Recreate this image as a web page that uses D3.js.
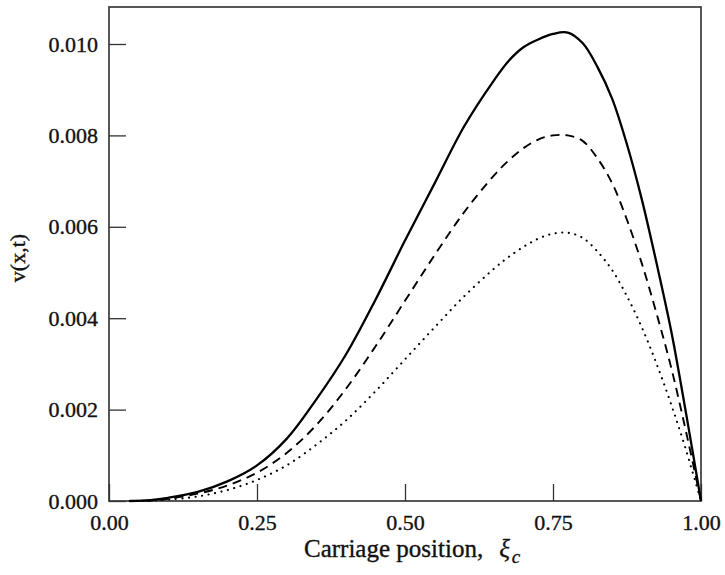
<!DOCTYPE html>
<html>
<head>
<meta charset="utf-8">
<script src="https://cdn.jsdelivr.net/npm/d3@7"></script>
<style>
  html, body { margin: 0; padding: 0; background: #fff; }
  svg { display: block; }
  text { font-family: "Liberation Serif", serif; fill: #111; stroke: #111; stroke-width: 0.35px; }
</style>
</head>
<body>
<svg id="chart" width="725" height="575"></svg>
<script>
// Carriage position samples
const xi = [0.035, 0.07, 0.10, 0.15, 0.20, 0.25, 0.30, 0.35, 0.40, 0.45, 0.50, 0.55, 0.60, 0.65, 0.675, 0.70, 0.725, 0.75, 0.775, 0.80, 0.825, 0.85, 0.875, 0.90, 0.925, 0.95, 0.975, 1.00];
// Deflection for each case
const solidV  = [0, 0.00002, 0.00007, 0.00020, 0.00043, 0.00078, 0.00136, 0.00222, 0.00320, 0.00440, 0.00570, 0.00695, 0.00820, 0.00920, 0.00963, 0.00993, 0.01010, 0.01022, 0.01025, 0.01002, 0.00950, 0.00880, 0.00780, 0.00660, 0.00520, 0.00370, 0.00190, 0];
const dashedV = [0, 0.00001, 0.00005, 0.00016, 0.00034, 0.00062, 0.00105, 0.00166, 0.00245, 0.00338, 0.00438, 0.00538, 0.00632, 0.00712, 0.00745, 0.00772, 0.00791, 0.00800, 0.00800, 0.00788, 0.00750, 0.00695, 0.00615, 0.00520, 0.00410, 0.00290, 0.00150, 0];
const dottedV = [0, 0.00001, 0.00003, 0.00010, 0.00024, 0.00046, 0.00078, 0.00123, 0.00176, 0.00240, 0.00310, 0.00380, 0.00448, 0.00508, 0.00534, 0.00556, 0.00574, 0.00585, 0.00587, 0.00576, 0.00546, 0.00505, 0.00448, 0.00380, 0.00300, 0.00210, 0.00110, 0];

const xTicks = [0, 0.25, 0.5, 0.75, 1.0];
const yTicks = [0, 0.002, 0.004, 0.006, 0.008, 0.010];

const svg = d3.select("#chart");
const L = 109, R = 701, T = 7, B = 501;

const x = d3.scaleLinear().domain([0, 1]).range([L, R]);
const y = d3.scaleLinear().domain([0, 0.0100]).range([B, B - 457]);

// Frame
svg.append("rect")
  .attr("x", L).attr("y", T).attr("width", R - L).attr("height", B - T)
  .attr("fill", "none").attr("stroke", "#3a3a3a").attr("stroke-width", 1.7);

// Axes with inward ticks
const xAxis = d3.axisBottom(x).tickValues(xTicks).tickFormat(d3.format(".2f"))
  .tickSizeInner(-17).tickSizeOuter(0).tickPadding(13);
const gx = svg.append("g").attr("transform", `translate(0,${B})`).call(xAxis);
gx.select(".domain").remove();
gx.selectAll("line").attr("stroke", "#333").attr("stroke-width", 1.3);
gx.selectAll("text").attr("font-size", 22).attr("font-family", "Liberation Serif, serif").attr("fill", "#111");

const yAxis = d3.axisLeft(y).tickValues(yTicks).tickFormat(d3.format(".3f"))
  .tickSizeInner(-17).tickSizeOuter(0).tickPadding(11);
const gy = svg.append("g").attr("transform", `translate(${L},0)`).call(yAxis);
gy.select(".domain").remove();
gy.selectAll("line").attr("stroke", "#333").attr("stroke-width", 1.3);
gy.selectAll("text").attr("font-size", 22).attr("font-family", "Liberation Serif, serif").attr("fill", "#111");

// Curves
const line = d3.line()
  .x(d => x(d[0]))
  .y(d => y(d[1]))
  .curve(d3.curveCatmullRom.alpha(0.5));

const series = [
  { v: solidV,  width: 2.3, dash: null, cap: "butt" },
  { v: dashedV, width: 1.9, dash: "9,6", cap: "butt" },
  { v: dottedV, width: 2.1, dash: "0.1,6.5", cap: "round" }
];

series.forEach(s => {
  svg.append("path")
    .datum(xi.map((d, i) => [d, s.v[i]]))
    .attr("d", line)
    .attr("fill", "none")
    .attr("stroke", "#000")
    .attr("stroke-width", s.width)
    .attr("stroke-linecap", s.cap)
    .attr("stroke-dasharray", s.dash);
});

// Axis titles
svg.append("text")
  .attr("transform", `translate(25,${(T + B) / 2 + 4}) rotate(-90)`)
  .attr("text-anchor", "middle")
  .attr("font-size", 22)
  .text("v(x,t)");

const xl = svg.append("text")
  .attr("x", 304).attr("y", 557)
  .attr("font-size", 25);
xl.append("tspan").text("Carriage position,");
xl.append("tspan").attr("font-style", "italic").attr("dx", 16).text("ξ");
xl.append("tspan").attr("font-style", "italic").attr("font-size", 19).attr("dx", 2).attr("dy", 6).text("c");
</script>
</body>
</html>
